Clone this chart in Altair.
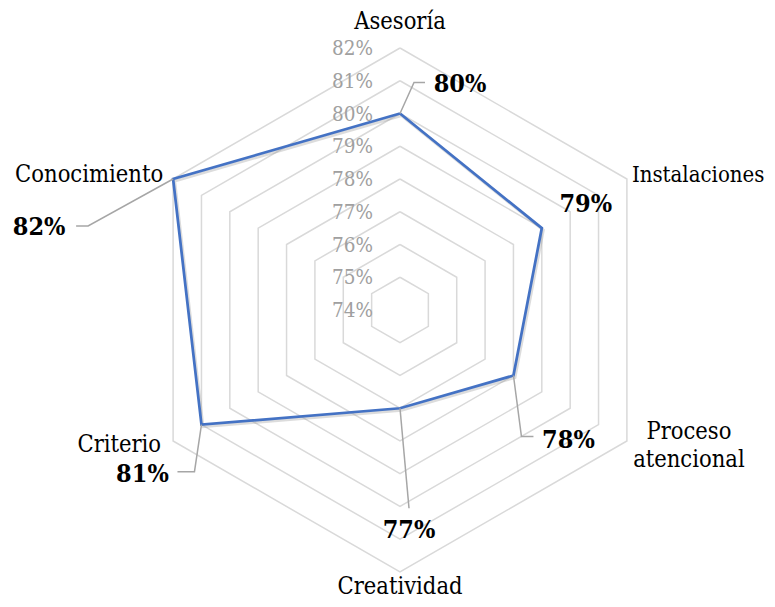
import altair as alt
import numpy as np
import pandas as pd

# ---------------- data ----------------
categories = ["Asesoría", "Instalaciones", "Proceso atencional", "Creatividad", "Criterio", "Conocimiento"]
category_text = ["Asesoría", "Instalaciones", ["Proceso", "atencional"], "Creatividad", "Criterio", "Conocimiento"]
values = [80, 79, 78, 77, 81, 82]
value_labels = ["80%", "79%", "78%", "77%", "81%", "82%"]
tick_values = [74, 75, 76, 77, 78, 79, 80, 81, 82]
tick_labels = ["74%", "75%", "76%", "77%", "78%", "79%", "80%", "81%", "82%"]

# ---------------- layout (pixels) ----------------
R_MIN, R_MAX = 74, 82
PX = 32.75            # pixels per percentage point
W, H = 759, 591       # plot area
CX, CY = 392, 302     # radar centre inside the plot area

# data-label centre offset from its point (px: right, down)
label_offset = {
    "Asesoría": (60, -30), "Instalaciones": (44, -24), "Proceso atencional": (55, 64),
    "Creatividad": (9, 122), "Criterio": (-59, 49), "Conocimiento": (-134, 48),
}
# leader-line bends/ends relative to point (px)
leader_offset = {
    "Asesoría": [(14, -31), (25, -31)],
    "Proceso atencional": [(8, 61), (20, 61)],
    "Creatividad": [(9, 100)],
    "Criterio": [(-7, 47), (-24, 47)],
    "Conocimiento": [(-85, 47), (-97, 47)],
}
# category label anchor offset from outer vertex (px) and alignment
cat_offset = {
    "Asesoría": ((0, -26), "center"), "Instalaciones": ((5, -4), "left"),
    "Proceso atencional": ((62, -9), "center"), "Creatividad": ((0, 15), "center"),
    "Criterio": ((-12, 4), "right"), "Conocimiento": ((-10, -4), "right"),
}
cat_font_size = {"left": 22, "center": 23.5, "right": 23.5}

angles = np.deg2rad(90 - 60 * np.arange(len(categories)))


def polar(r, k):
    return r * np.cos(angles[k % 6]), r * np.sin(angles[k % 6])


def shift(x, y, off):
    return x + off[0] / PX, y - off[1] / PX


# grid rings
grid_rows = []
for lvl in tick_values[1:]:
    for k in range(7):
        x, y = polar(lvl - R_MIN, k)
        grid_rows.append({"level": lvl, "order": k, "x": x, "y": y})
grid_df = pd.DataFrame(grid_rows)

# series polygon
series_rows = []
for k in range(7):
    x, y = polar(values[k % 6] - R_MIN, k)
    series_rows.append({"order": k, "x": x, "y": y, "cat": categories[k % 6]})
series_df = pd.DataFrame(series_rows)

# leader lines
leader_rows = []
for k, c in enumerate(categories):
    if c not in leader_offset:
        continue
    x0, y0 = polar(values[k] - R_MIN, k)
    leader_rows.append({"cat": c, "order": 0, "x": x0, "y": y0})
    for j, off in enumerate(leader_offset[c]):
        x, y = shift(x0, y0, off)
        leader_rows.append({"cat": c, "order": j + 1, "x": x, "y": y})
leader_df = pd.DataFrame(leader_rows)

# value labels
vl_rows = []
for k, c in enumerate(categories):
    x0, y0 = polar(values[k] - R_MIN, k)
    x, y = shift(x0, y0, label_offset[c])
    vl_rows.append({"x": x, "y": y, "label": value_labels[k]})
vl_df = pd.DataFrame(vl_rows)

# tick labels
tick_df = pd.DataFrame({"x": [0.0] * len(tick_values),
                        "y": [v - R_MIN for v in tick_values],
                        "label": tick_labels})

# category labels
cat_rows = []
for k, c in enumerate(categories):
    x0, y0 = polar(R_MAX - R_MIN, k)
    off, al = cat_offset[c]
    x, y = shift(x0, y0, off)
    cat_rows.append({"x": x, "y": y, "label": category_text[k], "align": al})
cat_df = pd.DataFrame(cat_rows)

# ---------------- chart ----------------
xs = alt.Scale(domain=[-CX / PX, (W - CX) / PX], nice=False, zero=False)
ys = alt.Scale(domain=[-(H - CY) / PX, CY / PX], nice=False, zero=False)
X = alt.X("x:Q", scale=xs, axis=None)
Y = alt.Y("y:Q", scale=ys, axis=None)
FONT = "'DejaVu Serif Condensed', 'DejaVu Serif', serif"

grid = alt.Chart(grid_df).mark_line(color="#d9d9d9", strokeWidth=1.5).encode(
    x=X, y=Y, detail="level:N", order="order:Q")

shadow_df = series_df.assign(x=series_df.x + 1.5 / PX, y=series_df.y - 2 / PX)
shadow = alt.Chart(shadow_df).mark_line(color="#9a9a9a", strokeWidth=3, opacity=0.35).encode(
    x=X, y=Y, order="order:Q")

series = alt.Chart(series_df).mark_line(color="#4472C4", strokeWidth=2.75, strokeJoin="miter").encode(
    x=X, y=Y, order="order:Q")

leaders = alt.Chart(leader_df).mark_line(color="#a6a6a6", strokeWidth=1.5).encode(
    x=X, y=Y, detail="cat:N", order="order:Q")

ticks = alt.Chart(tick_df).mark_text(align="right", baseline="middle", dx=-27, dy=1,
                                     font=FONT, fontSize=20.5, color="#a0a0a0").encode(
    x=X, y=Y, text="label:N")

vlabels = alt.Chart(vl_df).mark_text(align="center", baseline="middle", font=FONT,
                                     fontSize=25, fontWeight="bold", color="#000000").encode(
    x=X, y=Y, text="label:N")

cat_layers = []
for al in ["left", "center", "right"]:
    sub = cat_df[cat_df["align"] == al].drop(columns="align")
    cat_layers.append(
        alt.Chart(sub).mark_text(align=al, baseline="middle", font=FONT,
                                 fontSize=cat_font_size[al], lineHeight=28,
                                 color="#000000").encode(
            x=X, y=Y, text="label"))

chart = alt.layer(grid, shadow, series, leaders, ticks, vlabels, *cat_layers).properties(
    width=W, height=H, autosize="none", padding=0
).configure_view(stroke=None)

chart.save("out.html", embed_options={"renderer": "svg", "actions": False})
